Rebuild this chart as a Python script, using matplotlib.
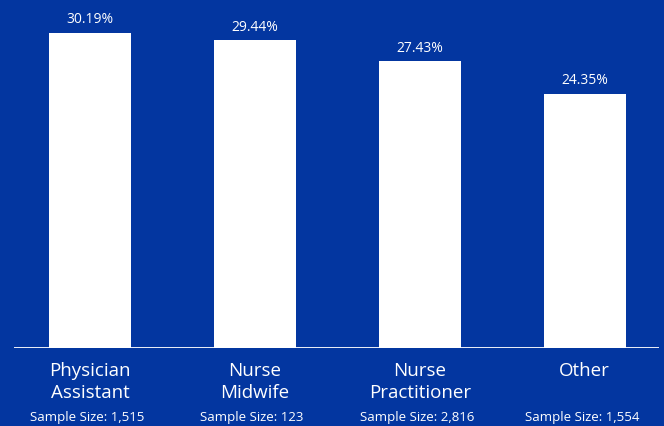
import matplotlib.pyplot as plt

plt.rcParams['font.family'] = ['Open Sans', 'DejaVu Sans']

categories = ["Physician\nAssistant", "Nurse\nMidwife", "Nurse\nPractitioner", "Other"]
values = [30.19, 29.44, 27.43, 24.35]
sample_sizes = ["1,515", "123", "2,816", "1,554"]

bg = "#0336A0"

fig = plt.figure(figsize=(6.64, 4.27), dpi=100, facecolor=bg)
ax = fig.add_axes([14 / 664, 1 - 349 / 427, 645 / 664, 349 / 427])
ax.set_facecolor(bg)

x = range(len(categories))
ax.bar(x, values, width=0.5, color="white")
ax.set_xlim(-0.46, 3.45)
ax.set_ylim(0, 349 / 10.45)
ax.axhline(0, color="white", lw=1.3)
ax.axis("off")

for i, v in enumerate(values):
    ax.annotate(f"{v:.2f}%", xy=(i, v), xytext=(0, 14), textcoords="offset pixels",
                ha="center", va="center", color="white", fontsize=10)
    ax.annotate(categories[i], xy=(i, 0), xytext=(0, -13), textcoords="offset pixels",
                ha="center", va="top", color="white", fontsize=13.5, linespacing=1.3)
    ax.annotate(f"Sample Size: {sample_sizes[i]}", xy=(i, 0), xytext=(-3, -69),
                textcoords="offset pixels", ha="center", va="center",
                color="white", fontsize=9.5)

fig.savefig("out.png", dpi=100, facecolor=bg)
